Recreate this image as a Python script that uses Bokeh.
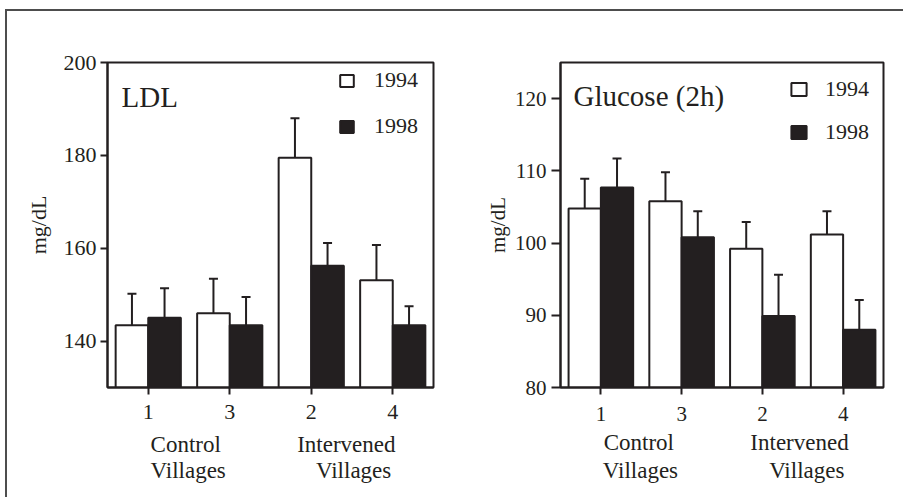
from bokeh.plotting import figure
from bokeh.models import (FactorRange, Range1d, ColumnDataSource, Whisker, TeeHead,
                          Label, Legend, LegendItem, LinearAxis, FixedTicker)
from bokeh.transform import dodge
from bokeh.layouts import row
from bokeh.embed import file_html
from bokeh.resources import INLINE

# ---------------- data ----------------
villages = ["1", "3", "2", "4"]
group_first_lines = ["Control", "Intervened"]
group_second_line = "Villages"
years = ["1994", "1998"]

ldl_1994 = [143.4, 146.0, 179.5, 153.1]
ldl_1994_err = [6.8, 7.4, 8.5, 7.6]
ldl_1998 = [145.0, 143.4, 156.2, 143.4]
ldl_1998_err = [6.4, 6.1, 4.9, 4.1]
ldl_ticks = [140, 160, 180, 200]

glu_1994 = [104.8, 105.8, 99.2, 101.2]
glu_1994_err = [4.1, 4.0, 3.7, 3.2]
glu_1998 = [107.7, 100.8, 89.9, 88.0]
glu_1998_err = [4.0, 3.6, 5.7, 4.1]
glu_ticks = [80, 90, 100, 110, 120]

INK = "#231f20"
SERIF = "Liberation Serif"


def text_axis(p, positions, texts, standoff):
    ticks = [round(v, 3) for v in positions]
    ax = LinearAxis(ticker=FixedTicker(ticks=ticks),
                    major_label_overrides={t: s for t, s in zip(ticks, texts)})
    ax.axis_line_color = None
    ax.major_tick_line_color = None
    ax.minor_tick_line_color = None
    ax.major_label_standoff = standoff
    ax.major_label_text_font = SERIF
    ax.major_label_text_font_size = "23px"
    ax.major_label_text_color = INK
    p.add_layout(ax, "below")


def make_panel(title, ystart, yend, ticks, a, ea, b, eb, g):
    p = figure(x_range=FactorRange(*villages), y_range=Range1d(ystart, yend),
               width=g["w"], height=g["h"], output_backend="svg", toolbar_location=None,
               min_border_left=g["l"], min_border_right=g["r"],
               min_border_top=g["t"], min_border_bottom=g["b"])
    p.background_fill_color = "white"
    p.border_fill_color = "white"
    p.grid.visible = False
    p.outline_line_color = INK
    p.outline_line_width = 2
    p.outline_line_alpha = 1

    src = ColumnDataSource(dict(
        v=villages, a=a, b=b,
        a_hi=[x + e for x, e in zip(a, ea)],
        b_hi=[x + e for x, e in zip(b, eb)],
    ))
    r94 = p.vbar(x=dodge("v", -0.2, range=p.x_range), top="a", bottom=ystart, width=0.4,
                 source=src, fill_color="white", line_color=INK, line_width=2)
    r98 = p.vbar(x=dodge("v", 0.2, range=p.x_range), top="b", bottom=ystart, width=0.4,
                 source=src, fill_color=INK, line_color=INK, line_width=2)
    for off, lo, hi in ((-0.2, "a", "a_hi"), (0.2, "b", "b_hi")):
        w = Whisker(base=dodge("v", off, range=p.x_range), lower=lo, upper=hi, source=src,
                    dimension="height", line_color=INK, line_width=2, lower_head=None,
                    upper_head=TeeHead(size=9, line_color=INK, line_width=2),
                    level="annotation")
        p.add_layout(w)

    # axes
    for ax in (p.xaxis[0], p.yaxis[0]):
        ax.axis_line_color = INK
        ax.axis_line_width = 2
        ax.major_tick_line_color = INK
        ax.major_tick_line_width = 2
        ax.major_tick_in = 0
        ax.minor_tick_line_color = None
        ax.major_label_text_font = SERIF
        ax.major_label_text_font_size = g["tick_fs"]
        ax.major_label_text_color = INK
    p.yaxis.ticker = ticks
    p.yaxis.major_tick_out = g["ytick"]
    p.yaxis.major_label_standoff = g["ystand"]
    p.xaxis.major_tick_out = 7
    p.xaxis.major_label_standoff = g["xstand"]
    p.yaxis.axis_label = "mg/dL"
    p.yaxis.axis_label_text_font = SERIF
    p.yaxis.axis_label_text_font_style = "normal"
    p.yaxis.axis_label_text_font_size = g["tick_fs"]
    p.yaxis.axis_label_text_color = INK
    p.yaxis.axis_label_standoff = g["astand"]

    # group captions under the village numbers
    centers = [2 * i + 1.0 for i in range(len(group_first_lines))]
    text_axis(p, [c + d for c, d in zip(centers, g["dx1"])], group_first_lines, g["stand1"])
    text_axis(p, [c + d for c, d in zip(centers, g["dx2"])],
              [group_second_line] * len(centers), g["stand2"])

    # panel title inside the frame
    fw = g["w"] - g["l"] - g["r"]
    fh = g["h"] - g["t"] - g["b"]
    xu = fw / len(villages)
    yu = fh / (yend - ystart)
    p.add_layout(Label(x=g["title_dx"] / xu, y=yend - g["title_dy"] / yu, text=title,
                       text_font=SERIF, text_font_size=g["title_fs"], text_color=INK,
                       text_align="left", text_baseline="alphabetic"))

    legend = Legend(items=[LegendItem(label=years[0], renderers=[r94]),
                           LegendItem(label=years[1], renderers=[r98])],
                    location="top_right")
    legend.border_line_color = None
    legend.background_fill_alpha = 0
    legend.label_text_font = SERIF
    legend.label_text_font_size = "22px"
    legend.label_text_color = INK
    legend.glyph_width = g["gw"]
    legend.glyph_height = g["gh"]
    legend.label_height = g["gh"]
    legend.label_width = g["lw"]
    legend.label_standoff = g["lstand"]
    legend.spacing = g["spacing"]
    legend.padding = 10
    legend.margin = g["lmargin"]
    p.add_layout(legend)
    return p


g_ldl = dict(w=450, h=486, l=100, r=24, t=51, b=110, tick_fs="22px", ytick=7, ystand=4,
             astand=10, xstand=10, title_dx=14, title_dy=34, title_fs="29px",
             dx1=[-0.04, -0.07], dx2=[-0.01, 0.02], stand1=4, stand2=-8,
             gw=17, gh=15, lw=54, lstand=19, spacing=20, lmargin=5)
g_glu = dict(w=446, h=486, l=103, r=20, t=51, b=110, tick_fs="21px", ytick=9, ystand=5,
             astand=2, xstand=12, title_dx=13, title_dy=33, title_fs="29px",
             dx1=[-0.03, -0.04], dx2=[-0.01, 0.05], stand1=0, stand2=-6,
             gw=19, gh=16, lw=44, lstand=17, spacing=17, lmargin=14)

p1 = make_panel("LDL", 130, 200, ldl_ticks, ldl_1994, ldl_1994_err, ldl_1998, ldl_1998_err, g_ldl)
p2 = make_panel("Glucose (2h)", 80, 125, glu_ticks, glu_1994, glu_1994_err, glu_1998, glu_1998_err, g_glu)

layout = row(p1, p2, margin=(9, 0, 0, 5),
             styles={"border-top": "2px solid #4d4d4d", "border-left": "2px solid #4d4d4d"})

open("out.html", "w").write(file_html(layout, INLINE))
